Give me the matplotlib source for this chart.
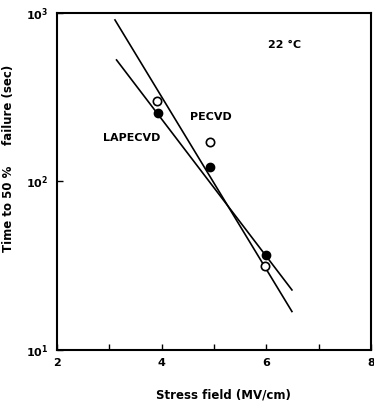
import numpy as np
import matplotlib.pyplot as plt

# data
pecvd_x = [3.92, 4.93, 5.98]
pecvd_y = [300, 172, 31.6]
lapecvd_x = [3.94, 4.93, 5.99]
lapecvd_y = [254, 121, 36.6]

# fitted lines (end points)
pecvd_fit_x = [3.11, 6.49]
pecvd_fit_y = [909, 16.9]
lapecvd_fit_x = [3.14, 6.49]
lapecvd_fit_y = [526, 22.7]

plt.rcParams['font.family'] = 'DejaVu Sans'
plt.rcParams['font.weight'] = 'bold'
plt.rcParams['axes.labelweight'] = 'bold'

fig = plt.figure(figsize=(3.74, 4.05), dpi=100)
ax = fig.add_axes([0.152, 0.136, 0.840, 0.832])

ax.plot(pecvd_fit_x, pecvd_fit_y, color='black', lw=1.2)
ax.plot(lapecvd_fit_x, lapecvd_fit_y, color='black', lw=1.2)
ax.plot(pecvd_x, pecvd_y, 'o', mfc='white', mec='black', mew=1.2, ms=6)
ax.plot(lapecvd_x, lapecvd_y, 'o', mfc='black', mec='black', ms=6)

ax.set_yscale('log')
ax.set_xlim(2, 8)
ax.set_ylim(10, 1000)
ax.set_xticks([2, 3, 4, 5, 6, 7, 8])
ax.set_xticklabels(['2', '', '4', '', '6', '', '8'])
ax.set_yticks([10, 100, 1000])
ax.set_yticklabels(['10$^1$', '10$^2$', '10$^3$'])
ax.yaxis.set_minor_locator(plt.NullLocator())
ax.tick_params(direction='in', length=4, width=1, labelsize=8, pad=6)
for s in ax.spines.values():
    s.set_linewidth(1.5)

ax.text(4.54, 241, 'PECVD', fontsize=8, va='center')
ax.text(2.88, 181, 'LAPECVD', fontsize=8, va='center')
ax.text(6.03, 646, '22 °C', fontsize=8, va='center')

ax.set_xlabel('Stress field (MV/cm)', fontsize=8.5)
ax.set_ylabel('Time to 50 %     failure (sec)', fontsize=8.5)
ax.xaxis.set_label_coords(0.53, -0.115)
ax.yaxis.set_label_coords(-0.134, 0.567)

fig.savefig('out.png', dpi=100)
